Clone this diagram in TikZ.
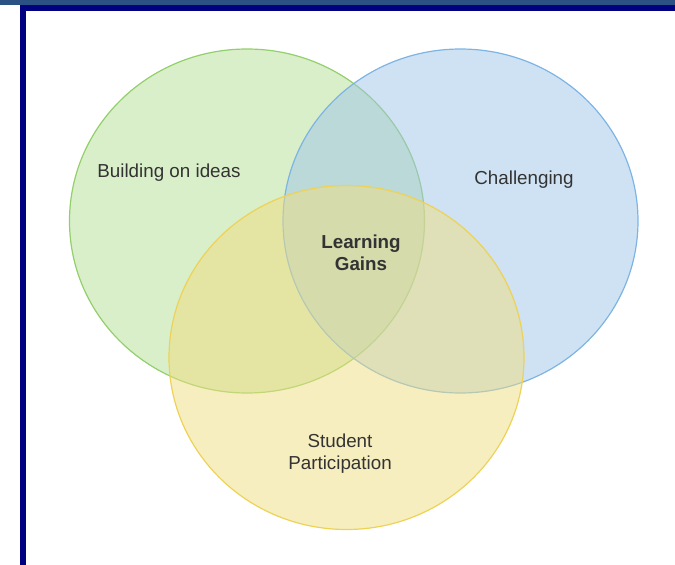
\documentclass[tikz,border=0pt]{standalone}
\usepackage{fontspec}
\setmainfont{Liberation Sans}
\usetikzlibrary{shapes.geometric}

\definecolor{stripblue}{HTML}{2B5283}
\definecolor{framenavy}{HTML}{000080}
\definecolor{ideasgreen}{HTML}{B3DF93}
\definecolor{ideasedge}{HTML}{93CF6C}
\definecolor{challblue}{HTML}{9FC5E7}
\definecolor{challedge}{HTML}{7DB4E4}
\definecolor{partyellow}{HTML}{EFDD7F}
\definecolor{partedge}{HTML}{EDD257}
\definecolor{labelgray}{HTML}{333333}

\begin{document}
\begin{tikzpicture}[x=1pt, y=-1pt,
  set/.style={ellipse, draw, line width=1.2pt, fill opacity=0.5,
    minimum width=355pt, minimum height=344pt, inner sep=0pt},
  label/.style={text=labelgray, align=center,
    font=\fontsize{18.8}{22}\selectfont}]
  \useasboundingbox (0,0) rectangle (675,565);
  % frame along the top and left edge
  \fill[stripblue] (0,0) rectangle (675,5);
  \fill[framenavy] (20,5) rectangle (675,11);
  \fill[framenavy] (20,5) rectangle (26,565);
  % the three sets
  \node[set, draw=ideasedge, fill=ideasgreen] (ideas) at (247,221) {};
  \node[set, draw=challedge, fill=challblue] (chall) at (460.5,221) {};
  \node[set, draw=partedge, fill=partyellow] (part) at (346.5,357.5) {};
  \node[label] (ideaslbl) at (169,173) {Building on ideas};
  \node[label] (challlbl) at (524,180) {Challenging};
  \node[label, font=\fontsize{18.8}{22}\selectfont\bfseries] (gains) at (361,253) {Learning\\Gains};
  \node[label] (partlbl) at (340,454) {Student\\Participation};
\end{tikzpicture}
\end{document}
